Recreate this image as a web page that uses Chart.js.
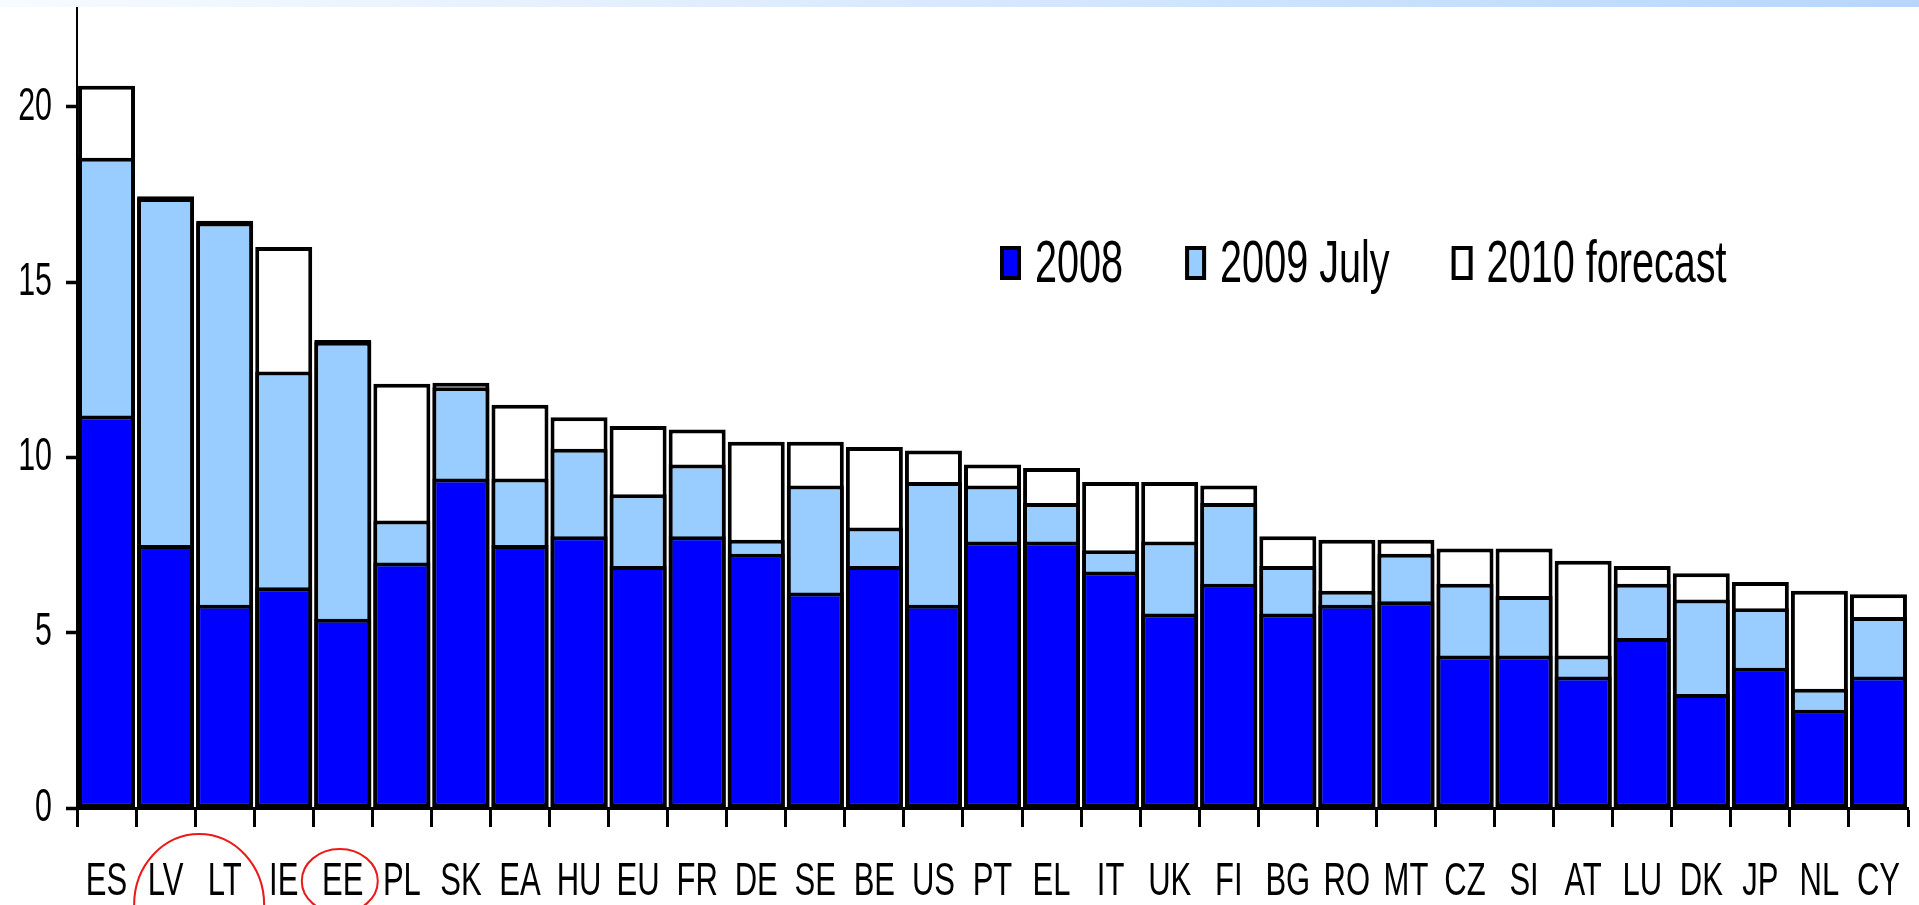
<!DOCTYPE html>
<html>
<head>
<meta charset="utf-8">
<script src="https://cdn.jsdelivr.net/npm/chart.js@4.4.1/dist/chart.umd.min.js"></script>
<style>
  html, body { margin: 0; padding: 0; background: #ffffff; overflow: hidden; }
  #wrap { position: relative; width: 1919px; height: 905px; }
  #band { position: absolute; left: 0; top: 0; width: 1919px; height: 7px;
          background: linear-gradient(to right, #f8fbff, #b6d6fd); z-index: 2; }
</style>
</head>
<body>
<div id="wrap">
  <div id="band"></div>
  <canvas id="c"></canvas>
</div>
<script>
const categories = ['ES','LV','LT','IE','EE','PL','SK','EA','HU','EU','FR','DE','SE','BE','US','PT','EL','IT','UK','FI','BG','RO','MT','CZ','SI','AT','LU','DK','JP','NL','CY'];
const seriesNames = ['2008', '2009 July', '2010 forecast'];
const values2008 = [11.2, 7.5, 5.8, 6.3, 5.4, 7.0, 9.4, 7.5, 7.75, 6.9, 7.75, 7.25, 6.15, 6.9, 5.8, 7.6, 7.6, 6.75, 5.55, 6.4, 5.55, 5.8, 5.9, 4.35, 4.35, 3.75, 4.85, 3.25, 4.0, 2.8, 3.75];
const values2009 = [18.55, 17.4, 16.7, 12.45, 13.3, 8.2, 12.0, 9.4, 10.25, 8.95, 9.8, 7.65, 9.2, 8.0, 9.3, 9.2, 8.7, 7.35, 7.6, 8.7, 6.9, 6.2, 7.25, 6.4, 6.05, 4.35, 6.4, 5.95, 5.7, 3.4, 5.45];
const values2010 = [20.6, 17.45, 16.75, 16.0, 13.35, 12.1, 12.13, 11.5, 11.15, 10.9, 10.8, 10.45, 10.45, 10.3, 10.2, 9.8, 9.7, 9.3, 9.3, 9.2, 7.75, 7.65, 7.65, 7.4, 7.4, 7.05, 6.9, 6.7, 6.45, 6.2, 6.1];
const yTickValues = [0, 5, 10, 15, 20];

const FONT = "'Liberation Sans', Arial, sans-serif";
const CONDENSE = 0.66;   // the original lettering is tall and narrow
const colors = ['#0000ff', '#99ccff', '#ffffff'];

const canvas = document.getElementById('c');
const ctx2d = canvas.getContext('2d');
const origFillText = ctx2d.fillText;
ctx2d.fillText = function (text, x, y, maxWidth) {
  const w = this.measureText(text).width * CONDENSE;
  const mw = maxWidth !== undefined ? Math.min(maxWidth, w) : w;
  return origFillText.call(this, text, x, y, mw);
};

// legend drawn inside the plot area (upper right)
const legendPlugin = {
  id: 'insideLegend',
  afterDraw(chart) {
    const ctx = chart.ctx;
    ctx.save();
    ctx.font = "60px " + FONT;
    ctx.textBaseline = 'middle';
    ctx.textAlign = 'left';
    let x = 1000;
    const yMid = 263, bw = 21, bh = 34;
    seriesNames.forEach((name, i) => {
      ctx.fillStyle = colors[i];
      ctx.fillRect(x, yMid - bh / 2, bw, bh);
      ctx.lineWidth = 4;
      ctx.strokeStyle = '#000';
      ctx.strokeRect(x + 2, yMid - bh / 2 + 2, bw - 4, bh - 4);
      ctx.fillStyle = '#000';
      const tx = x + bw + 14;
      ctx.fillText(name, tx, yMid + 2);
      x = tx + ctx.measureText(name).width * CONDENSE + 62;
    });
    ctx.restore();
  }
};

// hand-drawn red circles around LV/LT and EE
const circlesPlugin = {
  id: 'circles',
  afterDraw(chart) {
    const xs = chart.scales.x;
    const ctx = chart.ctx;
    ctx.save();
    ctx.strokeStyle = 'rgb(235,25,25)';
    ctx.lineWidth = 2;
    const c1 = (xs.getPixelForValue(1) + xs.getPixelForValue(2)) / 2 + 4;
    ctx.beginPath();
    ctx.ellipse(c1, 905, 65, 71, 0, 0, Math.PI * 2);
    ctx.stroke();
    const c2 = xs.getPixelForValue(4) - 3;
    ctx.beginPath();
    ctx.ellipse(c2, 881, 38, 32, 0, 0, Math.PI * 2);
    ctx.stroke();
    ctx.restore();
  }
};

const common = { borderColor: '#000', borderWidth: 4, borderSkipped: false, grouped: false,
                 categoryPercentage: 1.0, barPercentage: 0.965 };

new Chart(canvas, {
  type: 'bar',
  data: {
    labels: categories,
    datasets: [
      Object.assign({ label: seriesNames[0], data: values2008, backgroundColor: colors[0], order: 0 }, common),
      Object.assign({ label: seriesNames[1], data: values2009, backgroundColor: colors[1], order: 1 }, common),
      Object.assign({ label: seriesNames[2], data: values2010, backgroundColor: colors[2], order: 2 }, common)
    ]
  },
  options: {
    responsive: true,
    maintainAspectRatio: false,
    animation: false,
    layout: { padding: { top: 7, right: 11, bottom: 0, left: 0 } },
    plugins: { legend: { display: false }, tooltip: { enabled: false } },
    scales: {
      x: {
        grid: { offset: true, drawOnChartArea: false, drawTicks: true, tickLength: 19, tickWidth: 3, tickColor: '#000' },
        border: { color: '#000', width: 3 },
        ticks: { color: '#000', font: { family: FONT, size: 47 }, padding: 27, maxRotation: 0, autoSkip: false },
        afterFit(s) { s.height = 97; s.paddingLeft = 0; s.paddingRight = 0; }
      },
      y: {
        min: 0, max: 22.85,
        afterBuildTicks(s) { s.ticks = yTickValues.map(v => ({ value: v })); },
        grid: { drawOnChartArea: false, drawTicks: true, tickLength: 11, tickWidth: 3.5, tickColor: '#000' },
        border: { color: '#000', width: 2 },
        ticks: { color: '#000', font: { family: FONT, size: 46 }, padding: 14 },
        afterFit(s) { s.width = 77; s.paddingTop = 0; s.paddingBottom = 0; }
      }
    }
  },
  plugins: [legendPlugin, circlesPlugin]
});
</script>
</body>
</html>
